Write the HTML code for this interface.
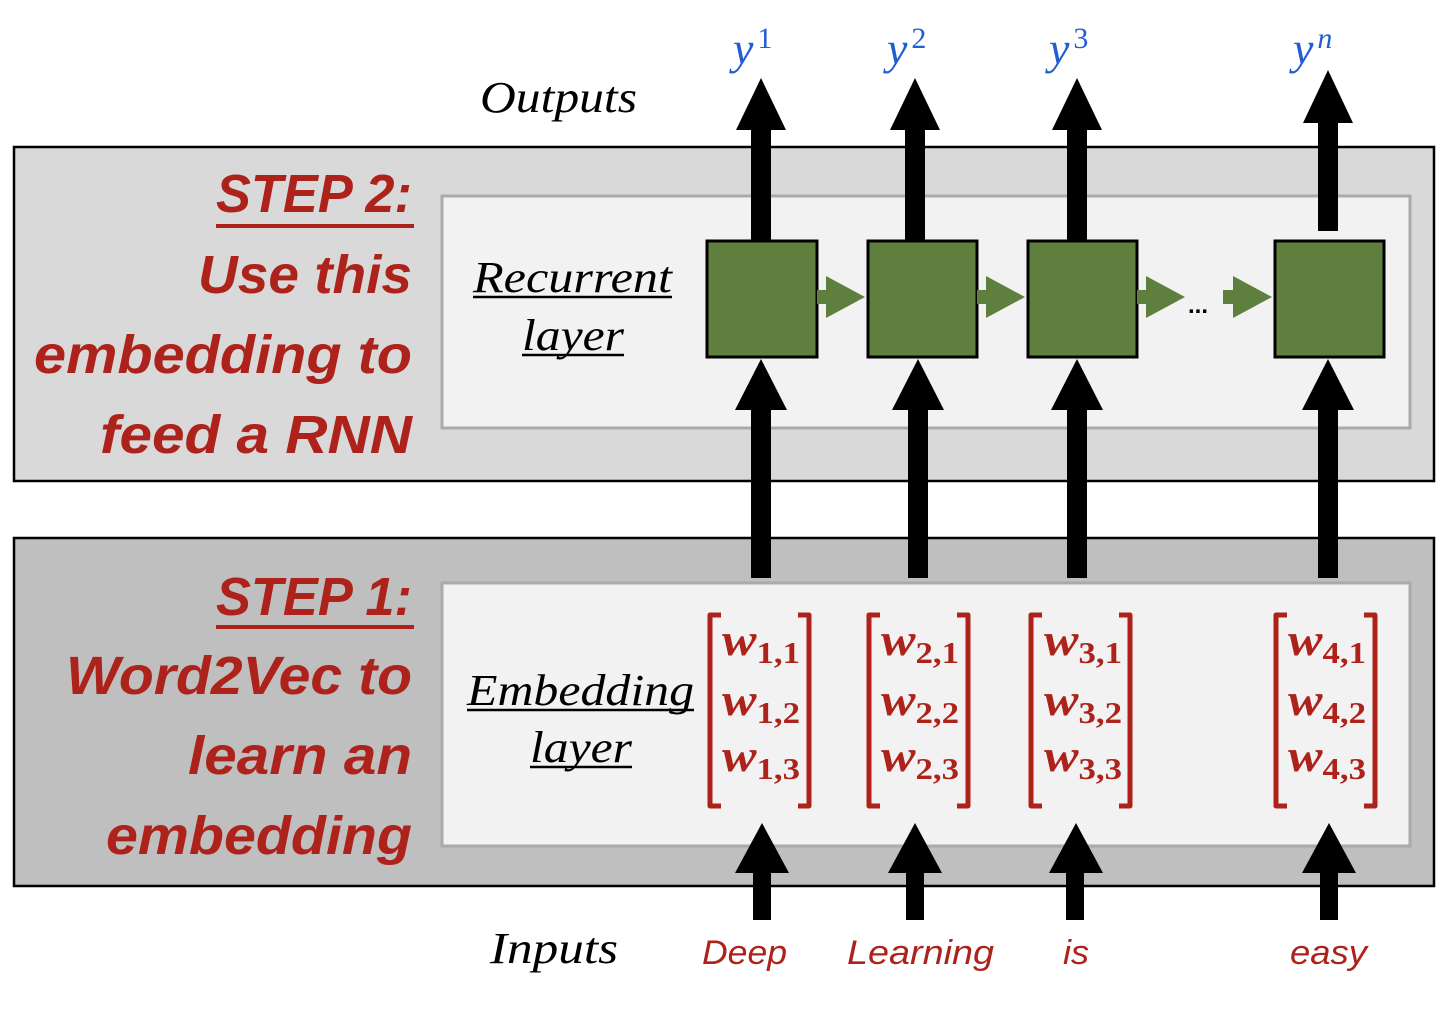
<!DOCTYPE html>
<html><head><style>html,body{margin:0;padding:0;background:#fff}svg{display:block}</style></head>
<body>
<svg width="1440" height="1014" viewBox="0 0 1440 1014" xmlns="http://www.w3.org/2000/svg">
<rect x="14" y="147" width="1420" height="334" fill="#d9d9d9" stroke="#000" stroke-width="2.5"/>
<rect x="442" y="196" width="968" height="232" fill="#f2f2f2" stroke="#aaa" stroke-width="3"/>
<rect x="14" y="538" width="1420" height="348" fill="#bfbfbf" stroke="#000" stroke-width="2.5"/>
<rect x="442" y="583" width="968" height="263" fill="#f2f2f2" stroke="#aaa" stroke-width="3"/>

<g fill="#000">
<rect x="751" y="128" width="20" height="113"/><polygon points="736,130 786,130 761,78"/>
<rect x="905" y="128" width="20" height="113"/><polygon points="890,130 940,130 915,78"/>
<rect x="1067" y="128" width="20" height="113"/><polygon points="1052,130 1102,130 1077,78"/>
<rect x="1318" y="120" width="20" height="111"/><polygon points="1303,123 1353,123 1328,70"/>
<rect x="751" y="405" width="20" height="173"/><polygon points="735,410 787,410 761,359"/>
<rect x="908" y="405" width="20" height="173"/><polygon points="892,410 944,410 918,359"/>
<rect x="1067" y="405" width="20" height="173"/><polygon points="1051,410 1103,410 1077,359"/>
<rect x="1318" y="405" width="20" height="173"/><polygon points="1302,410 1354,410 1328,359"/>
<rect x="753" y="870" width="18" height="50"/><polygon points="735,873 789,873 762,823"/>
<rect x="906" y="870" width="18" height="50"/><polygon points="888,873 942,873 915,823"/>
<rect x="1066" y="870" width="18" height="50"/><polygon points="1049,873 1103,873 1076,823"/>
<rect x="1320" y="870" width="18" height="50"/><polygon points="1302,873 1356,873 1329,823"/>
</g>

<g fill="#5f7f3f" stroke="#000" stroke-width="3">
<rect x="707" y="241" width="110" height="116"/>
<rect x="868" y="241" width="109" height="116"/>
<rect x="1028" y="241" width="109" height="116"/>
<rect x="1275" y="241" width="109" height="116"/>
</g>
<g fill="#5f7f3f">
<rect x="817" y="290" width="12" height="14"/><polygon points="826,276 826,318 865,297"/>
<rect x="977" y="290" width="12" height="14"/><polygon points="986,276 986,318 1025,297"/>
<rect x="1137" y="290" width="12" height="14"/><polygon points="1146,276 1146,318 1185,297"/>
<rect x="1223" y="290" width="12" height="14"/><polygon points="1233,276 1233,318 1272,297"/>
</g>
<text x="1188" y="313" font-family="Liberation Sans, sans-serif" font-size="24" font-weight="bold">...</text>

<g font-family="Liberation Serif, serif" font-style="italic" fill="#1f5fd1">
<text x="733" y="64" font-size="46">y<tspan dx="4" dy="-16" font-size="30" font-style="normal">1</tspan></text>
<text x="887" y="64" font-size="46">y<tspan dx="4" dy="-16" font-size="30" font-style="normal">2</tspan></text>
<text x="1049" y="64" font-size="46">y<tspan dx="4" dy="-16" font-size="30" font-style="normal">3</tspan></text>
<text x="1293" y="64" font-size="46">y<tspan dx="4" dy="-16" font-size="30">n</tspan></text>
</g>

<g font-family="Liberation Serif, serif" font-style="italic" fill="#000" font-size="44">
<text x="480" y="112" textLength="157" lengthAdjust="spacingAndGlyphs">Outputs</text>
<text x="490" y="963" textLength="128" lengthAdjust="spacingAndGlyphs">Inputs</text>
<text x="473" y="292" textLength="199" lengthAdjust="spacingAndGlyphs">Recurrent</text>
<text x="522" y="350" textLength="102" lengthAdjust="spacingAndGlyphs">layer</text>
<text x="467" y="705" textLength="227" lengthAdjust="spacingAndGlyphs">Embedding</text>
<text x="530" y="762" textLength="102" lengthAdjust="spacingAndGlyphs">layer</text>
</g>
<g stroke="#000" stroke-width="2.5">
<line x1="473" y1="297" x2="672" y2="297"/><line x1="522" y1="355" x2="624" y2="355"/>
<line x1="467" y1="710" x2="694" y2="710"/><line x1="530" y1="767" x2="632" y2="767"/>
</g>

<g font-family="Liberation Sans, sans-serif" font-style="italic" font-weight="bold" fill="#ad231b" font-size="54" text-anchor="end">
<text x="412" y="212" textLength="196" lengthAdjust="spacingAndGlyphs">STEP 2:</text>
<text x="412" y="293" textLength="214" lengthAdjust="spacingAndGlyphs">Use this</text>
<text x="412" y="373" textLength="378" lengthAdjust="spacingAndGlyphs">embedding to</text>
<text x="412" y="453" textLength="312" lengthAdjust="spacingAndGlyphs">feed a RNN</text>
<text x="412" y="615" textLength="196" lengthAdjust="spacingAndGlyphs">STEP 1:</text>
<text x="412" y="694" textLength="346" lengthAdjust="spacingAndGlyphs">Word2Vec to</text>
<text x="412" y="774" textLength="224" lengthAdjust="spacingAndGlyphs">learn an</text>
<text x="412" y="854" textLength="306" lengthAdjust="spacingAndGlyphs">embedding</text>
</g>
<rect x="216" y="224" width="198" height="4" fill="#ad231b"/>
<rect x="216" y="625" width="198" height="4" fill="#ad231b"/>

<g font-family="Liberation Sans, sans-serif" font-style="italic" fill="#ad231b" font-size="34">
<text x="702" y="964" textLength="85" lengthAdjust="spacingAndGlyphs">Deep</text>
<text x="847" y="964" textLength="147" lengthAdjust="spacingAndGlyphs">Learning</text>
<text x="1063" y="964" textLength="26" lengthAdjust="spacingAndGlyphs">is</text>
<text x="1290" y="964" textLength="77" lengthAdjust="spacingAndGlyphs">easy</text>
</g>

<g fill="none" stroke="#ad231b" stroke-width="5" stroke-linejoin="round">
<path d="M721,615 H710 V806 H721"/><path d="M798,615 H809 V806 H798"/>
<path d="M880,615 H869 V806 H880"/><path d="M957,615 H968 V806 H957"/>
<path d="M1042,615 H1031 V806 H1042"/><path d="M1119,615 H1130 V806 H1119"/>
<path d="M1287,615 H1276 V806 H1287"/><path d="M1364,615 H1375 V806 H1364"/>
</g>
<g font-family="Liberation Serif, serif" font-weight="bold" fill="#ad231b" font-size="46">
<text x="722" y="655" textLength="78" lengthAdjust="spacingAndGlyphs"><tspan font-style="italic">w</tspan><tspan font-size="31" dy="8">1,1</tspan></text>
<text x="722" y="715" textLength="78" lengthAdjust="spacingAndGlyphs"><tspan font-style="italic">w</tspan><tspan font-size="31" dy="8">1,2</tspan></text>
<text x="722" y="771" textLength="78" lengthAdjust="spacingAndGlyphs"><tspan font-style="italic">w</tspan><tspan font-size="31" dy="8">1,3</tspan></text>
<text x="881" y="655" textLength="78" lengthAdjust="spacingAndGlyphs"><tspan font-style="italic">w</tspan><tspan font-size="31" dy="8">2,1</tspan></text>
<text x="881" y="715" textLength="78" lengthAdjust="spacingAndGlyphs"><tspan font-style="italic">w</tspan><tspan font-size="31" dy="8">2,2</tspan></text>
<text x="881" y="771" textLength="78" lengthAdjust="spacingAndGlyphs"><tspan font-style="italic">w</tspan><tspan font-size="31" dy="8">2,3</tspan></text>
<text x="1044" y="655" textLength="78" lengthAdjust="spacingAndGlyphs"><tspan font-style="italic">w</tspan><tspan font-size="31" dy="8">3,1</tspan></text>
<text x="1044" y="715" textLength="78" lengthAdjust="spacingAndGlyphs"><tspan font-style="italic">w</tspan><tspan font-size="31" dy="8">3,2</tspan></text>
<text x="1044" y="771" textLength="78" lengthAdjust="spacingAndGlyphs"><tspan font-style="italic">w</tspan><tspan font-size="31" dy="8">3,3</tspan></text>
<text x="1288" y="655" textLength="78" lengthAdjust="spacingAndGlyphs"><tspan font-style="italic">w</tspan><tspan font-size="31" dy="8">4,1</tspan></text>
<text x="1288" y="715" textLength="78" lengthAdjust="spacingAndGlyphs"><tspan font-style="italic">w</tspan><tspan font-size="31" dy="8">4,2</tspan></text>
<text x="1288" y="771" textLength="78" lengthAdjust="spacingAndGlyphs"><tspan font-style="italic">w</tspan><tspan font-size="31" dy="8">4,3</tspan></text>
</g>
</svg>
</body></html>
